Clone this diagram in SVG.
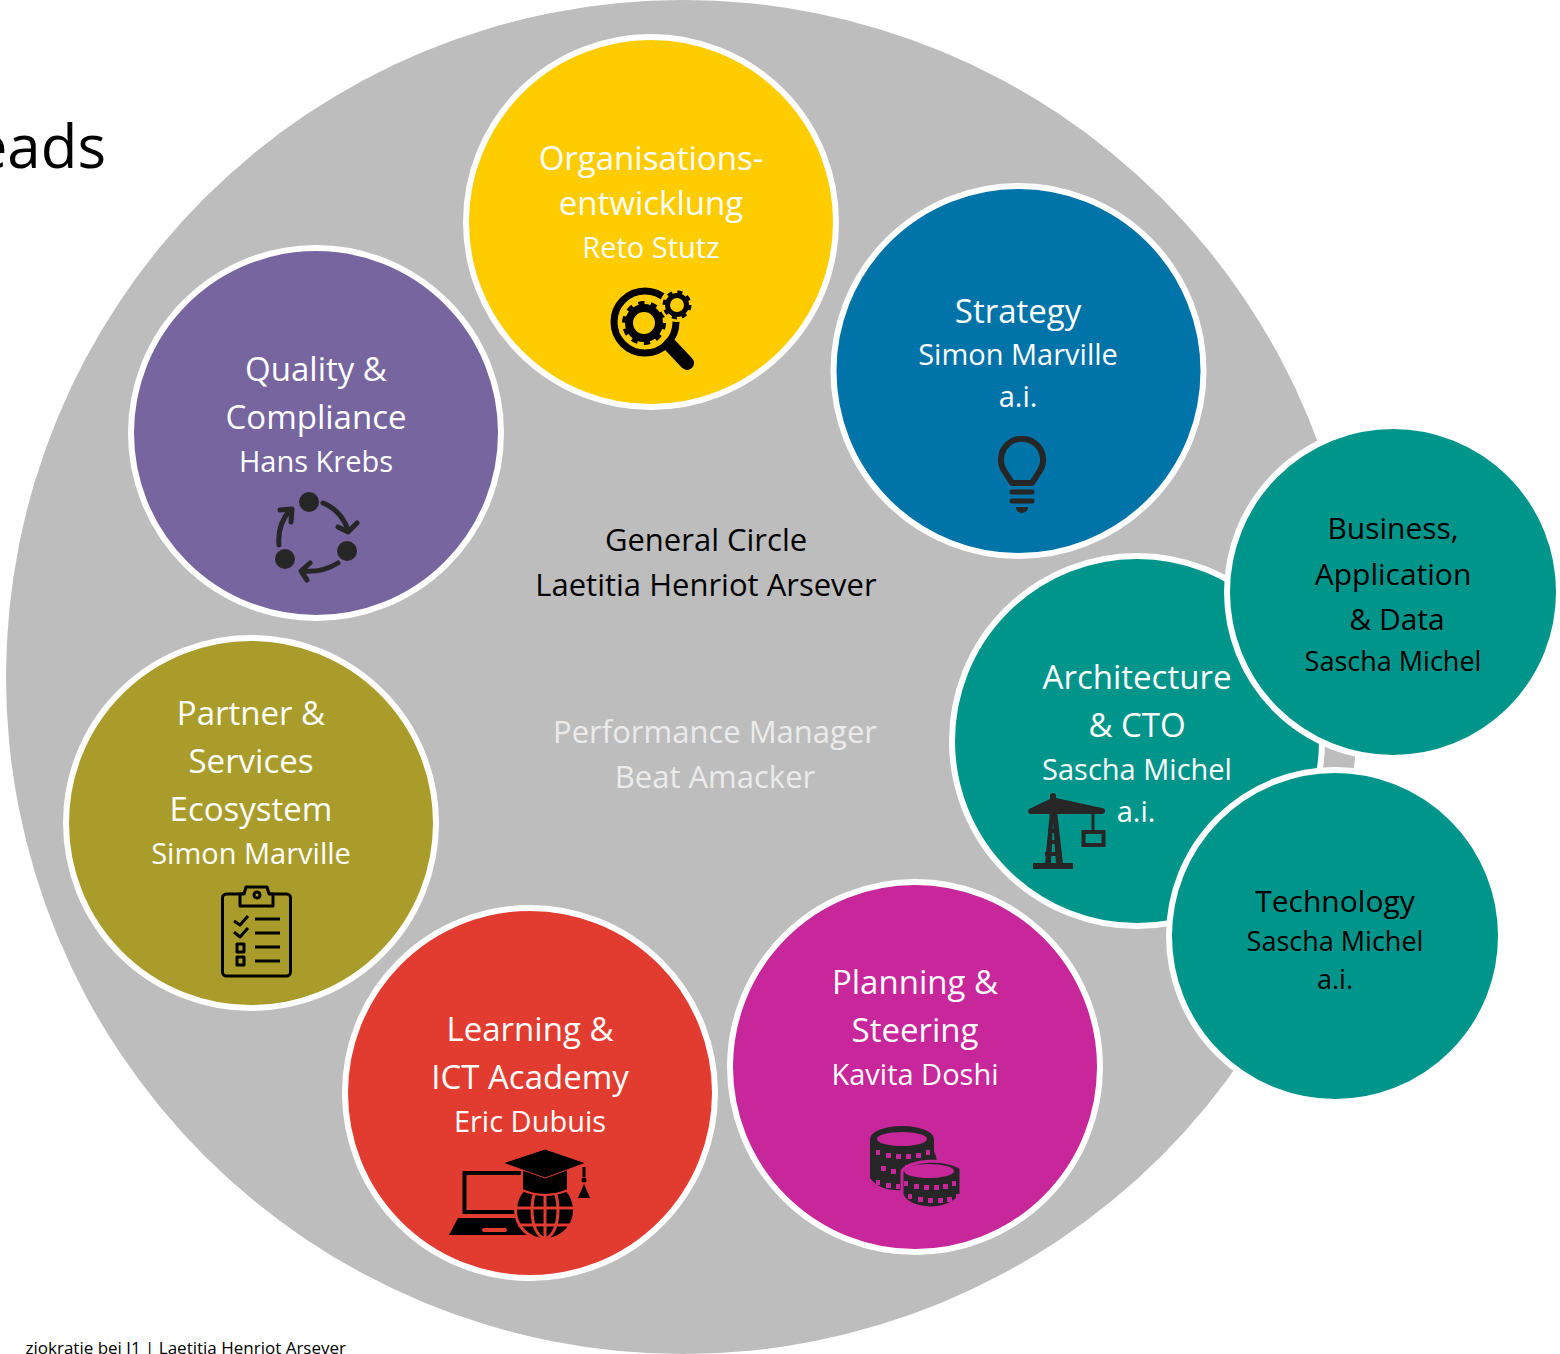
<svg xmlns="http://www.w3.org/2000/svg" width="1560" height="1354" viewBox="0 0 1560 1354">
<style>
text{font-family:"Open Sans","Noto Sans","Liberation Sans",sans-serif;text-anchor:middle}
.c{stroke:#fff;stroke-width:6}
.t{font-size:33px;fill:#fff}.n{font-size:29px;fill:#fff}
.tb{font-size:30px;fill:#000}.nb{font-size:27px;fill:#000}
.g{font-size:31px;fill:#000}.p{font-size:31px;fill:#ebebeb}
.i{fill:none;stroke:#262626;stroke-linecap:round;stroke-linejoin:round}
.d{fill:#262626}
</style>
<rect width="1560" height="1354" fill="#fff"/>
<g id="connectors"/>
<g id="general-circle">
<circle cx="683" cy="677" r="677" fill="#bdbdbd"/>
<text class="g" x="706" y="551">General Circle</text>
<text class="g" x="706" y="596">Laetitia Henriot Arsever</text>
<text class="p" x="715" y="743">Performance Manager</text>
<text class="p" x="715" y="788">Beat Amacker</text>
</g>
<text x="106" y="168" style="text-anchor:end;font-size:60px;fill:#000">eads</text>
<text x="346" y="1354" style="text-anchor:end;font-size:17px;fill:#000">ziokratie bei J1 | Laetitia Henriot Arsever</text>
<g id="organisationsentwicklung">
<circle class="c" cx="651" cy="222" r="185" fill="#ffcc00"/>
<text class="t" x="651" y="170">Organisations-</text>
<text class="t" x="651" y="215">entwicklung</text>
<text class="n" x="651" y="258">Reto Stutz</text>
<circle cx="645" cy="322" r="31" fill="none" stroke="#000" stroke-width="7"/>
<path d="M670 345L687 363" stroke="#000" stroke-width="14" stroke-linecap="round"/>
<circle cx="644" cy="323" r="15" fill="none" stroke="#000" stroke-width="8"/>
<circle cx="644" cy="323" r="20" fill="none" stroke="#000" stroke-width="4" stroke-dasharray="6.28 6.28"/>
<circle cx="677" cy="305" r="17" fill="#ffcc00"/>
<circle cx="677" cy="305" r="9.5" fill="none" stroke="#000" stroke-width="5"/>
<circle cx="677" cy="305" r="13" fill="none" stroke="#000" stroke-width="3" stroke-dasharray="5.1 5.1"/>
</g>
<g id="strategy">
<circle class="c" cx="1018.500" cy="371" r="185" fill="#0073a8"/>
<text class="t" x="1018" y="323">Strategy</text>
<text class="n" x="1018" y="365">Simon Marville</text>
<text class="n" x="1018" y="407">a.i.</text>
<path class="i" stroke-width="6" d="M1012 483L1005 472A21 21 0 1 1 1039 472L1032 483Z"/>
<path class="i" stroke-width="5" d="M1012 492H1032M1012 501H1032"/>
<path class="d" d="M1016 507H1028A6 6 0 0 1 1016 507Z"/>
</g>
<g id="quality-compliance">
<circle class="c" cx="316" cy="433" r="185" fill="#76659f"/>
<text class="t" x="316" y="381">Quality &amp;</text>
<text class="t" x="316" y="429">Compliance</text>
<text class="n" x="316" y="472">Hans Krebs</text>
<circle class="d" cx="309" cy="502" r="10"/><circle class="d" cx="347" cy="551" r="10"/><circle class="d" cx="285" cy="559" r="10"/>
<path class="i" stroke-width="5" d="M323 503Q341 510 348 530M357 523L348 532L338 527M338 563Q322 573 302 571M310 563L301 571L307 580M279 545Q277 525 290 510M280 510L292 509L291 522"/>
</g>
<g id="partner-services">
<circle class="c" cx="251" cy="823" r="185" fill="#aa9c2b"/>
<text class="t" x="251" y="725">Partner &amp;</text>
<text class="t" x="251" y="773">Services</text>
<text class="t" x="251" y="821">Ecosystem</text>
<text class="n" x="251" y="864">Simon Marville</text>
<g fill="none" stroke="#000" stroke-width="3" stroke-linejoin="round">
<rect x="222.500" y="894" width="68" height="82" rx="4"/>
<path d="M240 894V906H273V894H269L267 887H246L244 894Z" fill="#aa9c2b"/>
<circle cx="257" cy="895" r="3"/>
<path d="M234 921L240 925L248 916M234 932L240 937L248 928M255 919H280M255 933H280M255 947H280M255 961H280"/>
<rect x="237" y="944" width="7" height="8"/><rect x="237" y="957" width="7" height="8"/>
</g>
</g>
<g id="learning-academy">
<circle class="c" cx="530" cy="1093" r="185" fill="#e23c31"/>
<text class="t" x="530" y="1041">Learning &amp;</text>
<text class="t" x="530" y="1089">ICT Academy</text>
<text class="n" x="530" y="1132">Eric Dubuis</text>
<rect x="464.500" y="1173" width="60" height="39" fill="none" stroke="#000" stroke-width="4"/>
<path d="M458 1218H530V1235H449Z"/>
<rect x="482" y="1228" width="25" height="4" rx="2" fill="#e23c31"/>
<circle cx="545" cy="1210" r="29.500" fill="#000" stroke="#e23c31" stroke-width="3"/>
<g fill="none" stroke="#e23c31" stroke-width="3"><path d="M545 1181V1239M516 1208H574M518 1225H572"/><ellipse cx="545" cy="1210" rx="13" ry="28"/></g>
<path d="M522 1168V1190Q545 1200 568 1190V1168Z" stroke="#e23c31" stroke-width="2"/>
<path d="M503 1163L545 1149L586 1163L545 1178Z" stroke="#e23c31" stroke-width="1"/>
<path d="M584 1167V1177" stroke="#000" stroke-width="3"/><circle cx="584" cy="1180" r="2.500"/><path d="M584 1184L578 1198H590Z"/>
</g>
<g id="planning-steering">
<circle class="c" cx="915" cy="1067" r="185" fill="#c7279b"/>
<text class="t" x="915" y="994">Planning &amp;</text>
<text class="t" x="915" y="1042">Steering</text>
<text class="n" x="915" y="1085">Kavita Doshi</text>
<g fill="#262626">
<path d="M870 1139A32 13 0 0 1 934 1139V1152Q938 1158 936 1165H905V1190Q880 1192 870 1178V1145Z"/>
<ellipse cx="902" cy="1139" rx="25" ry="7" fill="#c7279b"/>
<path d="M902 1171A32 13 0 0 1 961 1168V1195Q950 1208 930 1208Q908 1207 902 1195Z" stroke="#c7279b" stroke-width="3"/>
<ellipse cx="929" cy="1171" rx="25" ry="7" fill="#c7279b"/>
</g>
<g fill="#c7279b"><path d="M876 1150h4v5h-4zM886 1153h5v5h-5zM896 1154h5v5h-5zM906 1154h5v5h-5zM916 1153h5v5h-5zM926 1150h4v5h-4zM881 1166h5v5h-5zM891 1169h5v5h-5zM876 1180h4v5h-4zM886 1183h5v5h-5zM896 1184h4v5h-4zM904 1181h4v5h-4zM914 1184h5v5h-5zM924 1185h5v5h-5zM934 1185h5v5h-5zM943 1184h5v5h-5zM952 1181h4v5h-4zM908 1194h4v5h-4zM918 1197h5v5h-5zM928 1198h5v5h-5zM938 1198h5v5h-5zM947 1197h5v5h-5zM956 1194h4v5h-4z"/></g>
</g>
<g id="architecture-cto">
<circle class="c" cx="1137" cy="741" r="185" fill="#00958b"/>
<text class="t" x="1137" y="689">Architecture</text>
<text class="t" x="1137" y="737">&amp; CTO</text>
<text class="n" x="1137" y="780">Sascha Michel</text>
<text class="n" x="1136" y="822">a.i.</text>
<g fill="#262626">
<path d="M1050 811L1045 864H1051L1053 822L1056 864H1063L1057 811Z"/>
<path d="M1050 796a3 3 0 0 1 6 0V798L1102 808a3 3 0 0 1 0 6H1030a3 3 0 0 1-1-5L1050 799Z"/>
<rect x="1033" y="863" width="40" height="6"/>
<path d="M1045 852H1062V856H1045ZM1047 840H1060V844H1047ZM1048 829H1059V833H1048Z"/>
<rect x="1091.500" y="811" width="3" height="20"/>
<rect x="1083.500" y="832" width="20" height="13" fill="none" stroke="#262626" stroke-width="4"/>
</g>
</g>
<g id="business-application-data">
<circle class="c" cx="1393" cy="592" r="166" fill="#00958b"/>
<text class="tb" x="1393" y="539">Business,</text>
<text class="tb" x="1393" y="585">Application</text>
<text class="tb" x="1397" y="630">&amp; Data</text>
<text class="nb" x="1393" y="671">Sascha Michel</text>
</g>
<g id="technology">
<circle class="c" cx="1335" cy="936" r="166" fill="#00958b"/>
<text class="tb" x="1335" y="912">Technology</text>
<text class="nb" x="1335" y="951">Sascha Michel</text>
<text class="nb" x="1335" y="989">a.i.</text>
</g>
</svg>
